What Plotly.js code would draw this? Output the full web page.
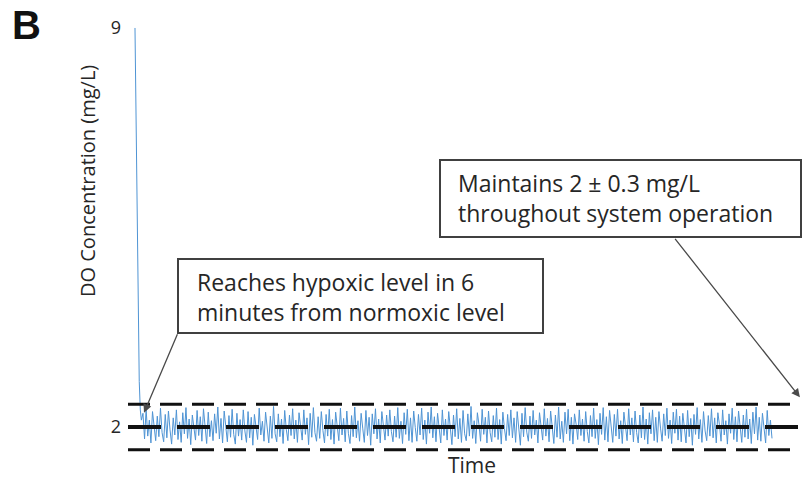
<!DOCTYPE html>
<html>
<head>
<meta charset="utf-8">
<script src="https://cdn.plot.ly/plotly-3.0.1.min.js"></script>
<style>html,body{margin:0;padding:0;background:#fff;}#chart{width:802px;height:480px;}</style>
</head>
<body>
<div id="chart"></div>
<script>
// ---- data ----
const panelLabel = 'B';
const yTickVals = [2, 9];
const yTickText = ['2', '9'];
const yTitle = 'DO Concentration (mg/L)';
const xTitle = 'Time';
// initial drop, one value per minute (0..6 min)
const dropMinutes = [0, 1, 2, 3, 4, 5, 6];
const dropDO = [9.0, 7.4, 5.6, 3.9, 2.8, 2.3, 2.12];
// controlled phase, sampled every 1.5 minutes from minute 7.5
const noiseStartMin = 7.5;
const noiseStepMin = 1.5;
const noiseDO = [
2.24,1.79,2.31,1.84,2.12,1.72,2.27,2.05,1.76,2.19,1.83,2.33,1.90,1.74,2.22,1.81,2.28,1.95,1.70,2.16,1.86,2.30,
1.78,2.09,1.73,2.25,1.88,2.34,1.80,2.14,1.69,2.21,2.02,1.77,2.29,1.85,2.18,1.75,2.32,1.92,1.71,2.26,1.83,2.11,
1.76,2.23,1.89,2.35,1.79,2.15,1.72,2.28,1.97,1.74,2.20,1.82,2.31,1.87,1.70,2.24,1.84,2.13,1.77,2.30,1.93,1.73,
2.27,1.81,2.17,1.68,2.22,2.04,1.78,2.33,1.86,2.10,1.75,2.26,1.91,1.72,2.19,1.80,2.36,1.88,1.74,2.23,1.83,2.14,
1.71,2.29,1.96,1.76,2.21,1.85,2.32,1.79,2.12,1.73,2.25,2.01,1.77,2.30,1.87,2.16,1.69,2.24,1.82,2.34,1.90,1.75,
2.18,1.80,2.27,1.94,1.72,2.22,1.84,2.31,1.78,2.13,1.70,2.26,2.03,1.76,2.33,1.86,2.15,1.74,2.28,1.89,1.71,2.20,
1.83,2.35,1.81,2.11,1.75,2.24,1.98,1.73,2.29,1.85,2.17,1.68,2.23,1.88,2.32,1.79,2.14,1.72,2.27,2.06,1.77,2.21,
1.84,2.30,1.92,1.74,2.19,1.82,2.34,1.80,2.10,1.71,2.25,1.87,2.31,1.76,2.16,1.73,2.28,1.99,1.75,2.22,1.86,2.33,
1.78,2.12,1.70,2.26,1.89,2.35,1.81,2.18,1.74,2.24,2.02,1.72,2.30,1.85,2.14,1.77,2.27,1.93,1.69,2.21,1.83,2.32,
1.79,2.15,1.73,2.29,1.88,1.76,2.23,1.84,2.36,1.80,2.11,1.71,2.25,2.04,1.75,2.31,1.87,2.17,1.72,2.28,1.90,1.74,
2.20,1.82,2.33,1.78,2.13,1.70,2.26,1.97,1.76,2.22,1.85,2.30,1.81,2.16,1.73,2.27,1.89,1.68,2.24,1.83,2.34,1.91,
1.75,2.19,1.80,2.29,1.86,2.12,1.72,2.25,2.01,1.77,2.32,1.84,2.15,1.74,2.28,1.94,1.71,2.21,1.82,2.35,1.79,2.10,
1.73,2.26,1.88,2.31,1.76,2.17,1.70,2.23,2.05,1.78,2.30,1.85,2.14,1.75,2.27,1.92,1.72,2.20,1.83,2.33,1.80,2.13,
1.69,2.24,1.87,2.34,1.77,2.18,1.74,2.29,1.96,1.73,2.22,1.84,2.31,1.79,2.11,1.71,2.26,2.03,1.76,2.32,1.86,2.16,
1.74,2.28,1.90,1.72,2.21,1.81,2.35,1.78,2.14,1.70,2.25,1.88,2.30,1.76,2.17,1.73,2.27,1.98,1.75,2.23,1.85,2.33,
1.80,2.12,1.71,2.26,1.89,2.31,1.77,2.19,1.74,2.24,2.02,1.72,2.29,1.83,2.15,1.68,2.22,1.87,2.34,1.79,2.13,1.73,
2.27,1.93,1.76,2.20,1.84,2.32,1.81,2.16,1.72,2.25,2.04,1.75,2.30,1.86,2.11,1.70,2.23,1.89,2.33,1.78,2.18,1.74,
2.28,1.95,1.73,2.21,1.82,2.31,1.79,2.14,1.71,2.26,1.88,2.35,1.77,2.17,1.75,2.24,1.99,1.72,2.29,1.85,2.12,1.80
];
// reference band lines (as drawn): upper, setpoint, lower
const bandLevels = [2.4, 2.0, 1.6];
const annoHypoxic = 'Reaches hypoxic level in 6<br>minutes from normoxic level';
const annoMaintain = 'Maintains 2 ± 0.3 mg/L<br>throughout system operation';

// ---- build ----
const noiseMinutes = noiseDO.map((_, i) => noiseStartMin + noiseStepMin * i);
const timeMin = dropMinutes.concat(noiseMinutes);
const doVals = dropDO.concat(noiseDO);

const W = 802, H = 480, ML = 122, MR = 2, MT = 20, MB = 28;
const PW = W - ML - MR, PH = H - MT - MB;
const xp = px => (px - ML) / PW;
const yp = py => (H - MB - py) / PH;
const xRange = [-12.24, 626.37];
const yRange = [1.561, 9.140];
const xAt = px => xRange[0] + (px - ML) / PW * (xRange[1] - xRange[0]);

const font = 'Open Sans, Noto Sans, sans-serif';
const txtColor = '#262626';
const boxColor = '#404040';

const trace = {
  x: timeMin, y: doVals, type: 'scatter', mode: 'lines',
  line: {color: '#4f94d4', width: 1}, hoverinfo: 'skip', showlegend: false
};

const bandStyles = [
  {width: 3, dash: '22px,10px'},
  {width: 4, dash: '33px,16px'},
  {width: 3, dash: '22px,10px'}
];
const shapes = bandLevels.map((v, i) => ({
  type: 'line', xref: 'x', yref: 'y', x0: xAt(128), x1: xAt(800), y0: v, y1: v,
  line: {color: '#111', width: bandStyles[i].width, dash: bandStyles[i].dash}, layer: 'above'
}));
// annotation boxes
shapes.push({type: 'rect', xref: 'paper', yref: 'paper', x0: xp(178), x1: xp(543), y0: yp(333), y1: yp(259),
  line: {color: boxColor, width: 2}, fillcolor: 'rgba(255,255,255,0)', layer: 'above'});
shapes.push({type: 'rect', xref: 'paper', yref: 'paper', x0: xp(440), x1: xp(801), y0: yp(237), y1: yp(160),
  line: {color: boxColor, width: 2}, fillcolor: 'rgba(255,255,255,0)', layer: 'above'});

const annotations = [
  {text: panelLabel, xref: 'paper', yref: 'paper', x: xp(26), y: yp(25), xanchor: 'center', yanchor: 'middle',
   showarrow: false, font: {family: 'Liberation Sans, Arial, sans-serif', size: 40, color: '#111', weight: 'bold'}},
  {text: yTitle, xref: 'paper', yref: 'paper', x: xp(87), y: yp(181), xanchor: 'center', yanchor: 'middle',
   textangle: -90, showarrow: false, font: {family: font, size: 20, color: txtColor}},
  {text: xTitle, xref: 'paper', yref: 'paper', x: xp(472), y: yp(465), xanchor: 'center', yanchor: 'middle',
   showarrow: false, font: {family: font, size: 21, color: txtColor}},
  {text: annoHypoxic, xref: 'paper', yref: 'paper', x: xp(195), y: yp(297), xanchor: 'left', yanchor: 'middle',
   align: 'left', showarrow: false, font: {family: font, size: 23, color: txtColor}},
  {text: annoMaintain, xref: 'paper', yref: 'paper', x: xp(456), y: yp(198), xanchor: 'left', yanchor: 'middle',
   align: 'left', showarrow: false, font: {family: font, size: 23, color: txtColor}},
  // arrows
  {text: '', x: 8.5, y: 2.25, xref: 'x', yref: 'y', showarrow: true, ax: 34, ay: -80,
   arrowhead: 2, arrowsize: 1.3, arrowwidth: 1.3, arrowcolor: '#4a4a4a'},
  {text: '', x: 626.3, y: 2.52, xref: 'x', yref: 'y', showarrow: true, ax: -126, ay: -160,
   arrowhead: 2, arrowsize: 1.3, arrowwidth: 1.3, arrowcolor: '#4a4a4a'}
];

const layout = {
  width: W, height: H,
  margin: {l: ML, r: MR, t: MT, b: MB, pad: 0},
  paper_bgcolor: '#fff', plot_bgcolor: '#fff',
  showlegend: false,
  xaxis: {range: xRange, showgrid: false, zeroline: false, showline: false, showticklabels: false, ticks: '', fixedrange: true},
  yaxis: {range: yRange, showgrid: false, zeroline: false, showline: false, ticks: '',
          tickvals: yTickVals, ticktext: yTickText, tickfont: {family: font, size: 18, color: txtColor}, fixedrange: true},
  shapes: shapes,
  annotations: annotations
};

Plotly.newPlot('chart', [trace], layout, {staticPlot: true, displayModeBar: false});
</script>
</body>
</html>
